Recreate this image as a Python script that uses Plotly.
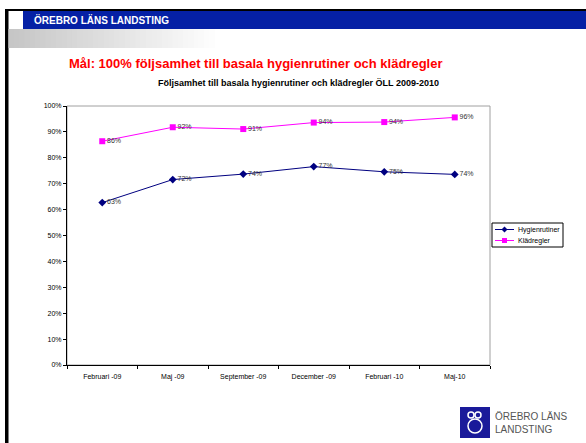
import plotly.graph_objects as go

months = ["Februari -09", "Maj -09", "September -09", "December -09", "Februari -10", "Maj-10"]
hygien = [0.627, 0.716, 0.737, 0.766, 0.746, 0.736]
klad = [0.864, 0.918, 0.911, 0.936, 0.938, 0.956]
series_names = ["Hygienrutiner", "Klädregler"]
series_colors = ["#000080", "#FF00FF"]

W, H = 586, 443
# plot area in pixels
L, R, T, B = 67, 490, 106, 365


def px(x):
    return (x - L) / (R - L)


def py(y):
    return (B - y) / (B - T)


fig = go.Figure()
fig.add_trace(go.Scatter(
    x=months, y=hygien, name=series_names[0], mode="lines+markers+text",
    line=dict(color=series_colors[0], width=1),
    marker=dict(symbol="diamond", size=6, color=series_colors[0]),
    text=[f"{v:.0%}" for v in hygien], textposition="middle right",
    textfont=dict(size=7, color="#333333"),
))
fig.add_trace(go.Scatter(
    x=months, y=klad, name=series_names[1], mode="lines+markers+text",
    line=dict(color=series_colors[1], width=1),
    marker=dict(symbol="square", size=6, color=series_colors[1]),
    text=[f"{v:.0%}" for v in klad], textposition="middle right",
    textfont=dict(size=7, color="#333333"),
))

shapes = []
# plot area border (grey)
shapes.append(dict(type="rect", xref="paper", yref="paper", x0=0, x1=1, y0=0, y1=1,
                   line=dict(color="#a0a0a0", width=1), layer="below"))
# slide frame
shapes.append(dict(type="rect", xref="paper", yref="paper", x0=px(5), x1=px(8.5),
                   y0=py(443), y1=py(9), fillcolor="black", line=dict(width=0)))
shapes.append(dict(type="rect", xref="paper", yref="paper", x0=px(5), x1=px(586),
                   y0=py(11), y1=py(9), fillcolor="black", line=dict(width=0)))
# header blue bar
shapes.append(dict(type="rect", xref="paper", yref="paper", x0=px(23), x1=px(586),
                   y0=py(29), y1=py(11), fillcolor="#0520A5", line=dict(width=0)))
# grey gradient bar
n = 40
for i in range(n):
    x0 = 8.5 + i * (220 - 8.5) / n
    x1 = 8.5 + (i + 1) * (220 - 8.5) / n
    g = int(198 + (255 - 198) * i / (n - 1))
    shapes.append(dict(type="rect", xref="paper", yref="paper", x0=px(x0), x1=px(x1) + 0.002,
                       y0=py(48), y1=py(29), fillcolor=f"rgb({g},{g},{g})", line=dict(width=0)))
# logo square
shapes.append(dict(type="rect", xref="paper", yref="paper", x0=px(460), x1=px(490),
                   y0=py(438), y1=py(407), fillcolor="#1A1A9A", line=dict(width=0)))
for cx, cy, r in [(471, 415, 3), (478, 415, 3), (475, 426, 7)]:
    shapes.append(dict(type="circle", xref="paper", yref="paper",
                       x0=px(cx - r), x1=px(cx + r), y0=py(cy + r), y1=py(cy - r),
                       line=dict(color="white", width=1.5)))

# compact legend box (Excel style)
lx0, lx1, ly0, ly1 = 492, 563, 223, 247
shapes.append(dict(type="rect", xref="paper", yref="paper", x0=px(lx0), x1=px(lx1),
                   y0=py(ly1), y1=py(ly0), line=dict(color="black", width=1), fillcolor="white"))
annotations = []
for i, (name, col) in enumerate(zip(series_names, series_colors)):
    yy = 229.5 + i * 11
    shapes.append(dict(type="line", xref="paper", yref="paper", x0=px(495), x1=px(514),
                       y0=py(yy), y1=py(yy), line=dict(color=col, width=1)))
    if i == 0:
        shapes.append(dict(type="path", xref="paper", yref="paper",
                           path=f"M {px(504.5)},{py(yy - 3)} L {px(507.5)},{py(yy)} L {px(504.5)},{py(yy + 3)} L {px(501.5)},{py(yy)} Z",
                           fillcolor=col, line=dict(width=0)))
    else:
        shapes.append(dict(type="rect", xref="paper", yref="paper", x0=px(502), x1=px(507),
                           y0=py(yy + 2.5), y1=py(yy - 2.5), fillcolor=col, line=dict(width=0)))
    annotations.append(dict(text=name, x=px(516), y=py(yy), xref="paper", yref="paper",
                            xanchor="left", yanchor="middle", showarrow=False,
                            font=dict(size=7, color="black")))

annotations += [
    dict(text="<b>ÖREBRO LÄNS LANDSTING</b>", x=px(32), y=py(20), xref="paper", yref="paper",
         xanchor="left", yanchor="middle", showarrow=False,
         font=dict(size=10, color="white", family="Liberation Sans")),
    dict(text="<b>Mål: 100% följsamhet till basala hygienrutiner och klädregler</b>",
         x=px(256), y=py(63), xref="paper", yref="paper", xanchor="center", yanchor="middle",
         showarrow=False, font=dict(size=13, color="#FF0000", family="Liberation Sans")),
    dict(text="<b>Följsamhet till basala hygienrutiner och klädregler ÖLL 2009-2010</b>",
         x=px(298), y=py(83), xref="paper", yref="paper", xanchor="center", yanchor="middle",
         showarrow=False, font=dict(size=9, color="black", family="Liberation Sans")),
    dict(text="ÖREBRO LÄNS<br>LANDSTING", x=px(493), y=py(422.5), xref="paper", yref="paper",
         xanchor="left", yanchor="middle", align="left", showarrow=False,
         font=dict(size=10, color="#555555", family="Liberation Sans")),
]

fig.update_layout(
    width=W, height=H,
    margin=dict(l=L, r=W - R, t=T, b=H - B),
    paper_bgcolor="white", plot_bgcolor="white",
    font=dict(family="Liberation Sans", size=7, color="black"),
    showlegend=False,
    shapes=shapes,
    annotations=annotations,
)
fig.update_xaxes(type="category", showgrid=False, showline=True, linecolor="black", linewidth=1,
                 ticks="outside", tickson="boundaries", ticklen=3, tickcolor="black",
                 tickfont=dict(size=7), range=[-0.5, 5.5], ticklabelstandoff=5)
fig.update_yaxes(range=[0, 1], dtick=0.1, tickformat=".0%", showgrid=False, showline=True,
                 linecolor="black", linewidth=1, ticks="outside", ticklen=3, tickcolor="black",
                 tickfont=dict(size=7), zeroline=False)

fig.write_html("out.html", config={"displayModeBar": False, "displaylogo": False},
               post_script="document.body.style.margin='0';document.body.style.overflow='hidden';")
